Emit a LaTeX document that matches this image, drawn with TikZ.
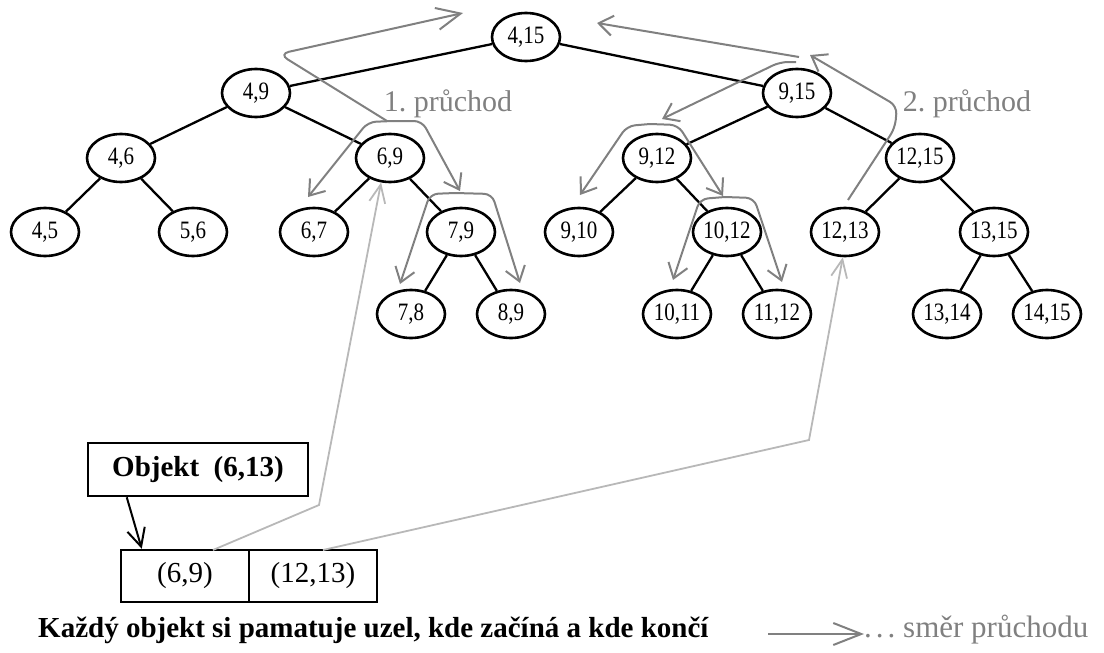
\documentclass[tikz,border=0pt]{standalone}
\usepackage{fontspec}
\setmainfont{Liberation Serif}
\newfontfamily\nodefont[FakeStretch=0.84]{Liberation Serif}
\usetikzlibrary{arrows.meta,calc,shapes.geometric}
\definecolor{trav}{gray}{0.5}
\definecolor{lite}{gray}{0.72}
\begin{document}
\begin{tikzpicture}[x=1pt,y=-1pt,
  tn/.style={ellipse, draw, line width=2.6pt, minimum width=68pt, minimum height=48pt, inner sep=0pt, font=\nodefont\fontsize{25}{27}\selectfont},
  edge/.style={line width=2.3pt},
  trv/.style={draw=trav, line width=2pt, rounded corners=8pt, -{Straight Barb[length=14pt,width=20pt]}},
  trvbig/.style={draw=trav, line width=2pt, rounded corners=10pt, -{Straight Barb[length=24pt,width=22pt]}},
  lite/.style={draw=lite, line width=1.8pt, -{Straight Barb[length=18pt,width=16pt]}},
  bx/.style={draw, line width=2.5pt, inner sep=0pt, font=\fontsize{29}{32}\selectfont},
  lab/.style={text=trav, font=\fontsize{30}{32}\selectfont, inner sep=0pt}]
\path[use as bounding box] (0,0) rectangle (1104,653);

% tree nodes
\node[tn] (r) at (526,37) {4,15};
\node[tn] (a) at (256,93) {4,9};
\node[tn] (b) at (797,93) {9,15};
\node[tn] (a1) at (121,158) {4,6};
\node[tn] (a2) at (390,158) {6,9};
\node[tn] (b1) at (657,158) {9,12};
\node[tn] (b2) at (920,158) {12,15};
\node[tn] (a11) at (45,232) {4,5};
\node[tn] (a12) at (193,232) {5,6};
\node[tn] (a21) at (314,232) {6,7};
\node[tn] (a22) at (461,232) {7,9};
\node[tn] (b11) at (579,232) {9,10};
\node[tn] (b12) at (727,232) {10,12};
\node[tn] (b21) at (845,232) {12,13};
\node[tn] (b22) at (994,232) {13,15};
\node[tn] (a221) at (411,314) {7,8};
\node[tn] (a222) at (511,314) {8,9};
\node[tn] (b121) at (677,314) {10,11};
\node[tn] (b122) at (777,314) {11,12};
\node[tn] (b221) at (947,314) {13,14};
\node[tn] (b222) at (1047,314) {14,15};

% tree edges
\draw[edge] (r) -- (a);
\draw[edge] (r) -- (b);
\draw[edge] (a) -- (a1);
\draw[edge] (a) -- (a2);
\draw[edge] (b) -- (b1);
\draw[edge] (b) -- (b2);
\draw[edge] (a1) -- (a11);
\draw[edge] (a1) -- (a12);
\draw[edge] (a2) -- (a21);
\draw[edge] (a2) -- (a22);
\draw[edge] (b1) -- (b11);
\draw[edge] (b1) -- (b12);
\draw[edge] (b2) -- (b21);
\draw[edge] (b2) -- (b22);
\draw[edge] (a22) -- (a221);
\draw[edge] (a22) -- (a222);
\draw[edge] (b12) -- (b121);
\draw[edge] (b12) -- (b122);
\draw[edge] (b22) -- (b221);
\draw[edge] (b22) -- (b222);

% pass 1
\draw[trvbig] (387,121) -- (279,54) -- (463,13);
\draw[trv] (393,121) -- (368,122) -- (308,197);
\draw[trv] (393,121) -- (422,121) -- (460,191);
\draw[trv] (455,193) -- (430,194) -- (400,284);
\draw[trv] (455,193) -- (492,194) -- (520,283);
\node[lab] (l1) at (448,104) {1.\ průchod};

% pass 2
\draw[trv] (848,200) -- (895,128) -- (897,106) -- (810,55);
\draw[trv] (799,57) -- (597,23);
\draw[trv] (796,62) -- (780,62) -- (662,119);
\draw[trv] (650,124) -- (627,126) -- (580,195);
\draw[trv] (650,124) -- (678,125) -- (723,196);
\draw[trv] (725,197) -- (700,199) -- (673,280);
\draw[trv] (725,197) -- (754,198) -- (782,282);
\node[lab] (l2) at (967,104) {2.\ průchod};

% object boxes
\node[bx, minimum width=220pt, minimum height=53pt] (obj) at (198,469.5) {\bfseries Objekt\ \ (6,13)};
\node[bx, minimum width=128pt, minimum height=52pt] (c1) at (185,576) {(6,9)};
\node[bx, minimum width=128pt, minimum height=52pt] (c2) at (313,576) {(12,13)};
\draw[line width=2pt, -{Straight Barb[length=18pt,width=18pt]}] ($(obj.south west)+(40,0)$) -- ($(c1.north west)+(22,0)$);

% pointers into the tree
\coordinate (s1) at (213,550);
\coordinate (k1) at (319,505);
\coordinate (s2) at (323,550);
\coordinate (k2) at (809,440);
\draw[lite] (s1) -- (k1) -- (a2.250);
\draw[lite] (s2) -- (k2) -- (b21.265);

% caption and legend
\node[anchor=west, inner sep=0pt, font=\bfseries\fontsize{29}{32}\selectfont] (cap) at (38,630) {Každý objekt si pamatuje uzel, kde začíná a kde končí};
\node[anchor=west, inner sep=0pt, text=trav, font=\fontsize{31}{33}\selectfont] (lt) at (864,630) {.\kern4pt.\kern4pt.\ směr průchodu};
\coordinate (la) at (768,634);
\draw[draw=trav, line width=2pt, -{Straight Barb[length=28pt,width=22pt]}] (la) -- (lt.west |- la);
\end{tikzpicture}
\end{document}
